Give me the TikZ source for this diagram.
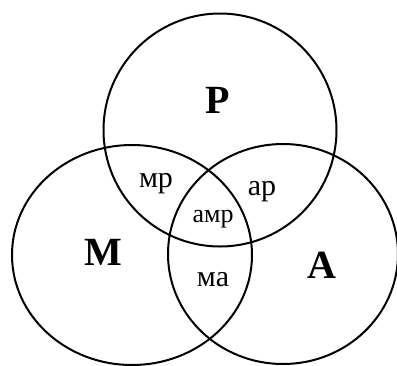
\documentclass[tikz,border=0pt]{standalone}
\usepackage{fontspec}
\setmainfont{Liberation Serif}
\usetikzlibrary{shapes.geometric}
\begin{document}
\begin{tikzpicture}[x=1pt,y=-1pt,
  setshape/.style={ellipse,draw=black,line width=2pt,inner sep=0pt},
  biglabel/.style={anchor=base,inner sep=0pt,font=\fontsize{40}{40}\selectfont\bfseries},
  smalllabel/.style={anchor=base,inner sep=0pt,font=\fontsize{30}{30}\selectfont},
  tinylabel/.style={anchor=base,inner sep=0pt,font=\fontsize{26}{26}\selectfont}]
\useasboundingbox (0,0) rectangle (397,365);
\node[setshape,minimum width=233pt,minimum height=233pt] (P) at (220,130) {};
\node[setshape,minimum width=240pt,minimum height=220pt] (M) at (132,255) {};
\node[setshape,minimum width=230pt,minimum height=220pt] (A) at (283,254) {};
\node[biglabel] (lP) at (218,113) {Р};
\node[biglabel] (lM) at (103,265) {М};
\node[biglabel] (lA) at (322,278) {А};
\node[smalllabel] (lmp) at (156,187) {мр};
\node[smalllabel] (lap) at (262,195) {ар};
\node[tinylabel] (lamp) at (213,222) {амр};
\node[smalllabel] (lma) at (213,286) {ма};
\end{tikzpicture}
\end{document}
